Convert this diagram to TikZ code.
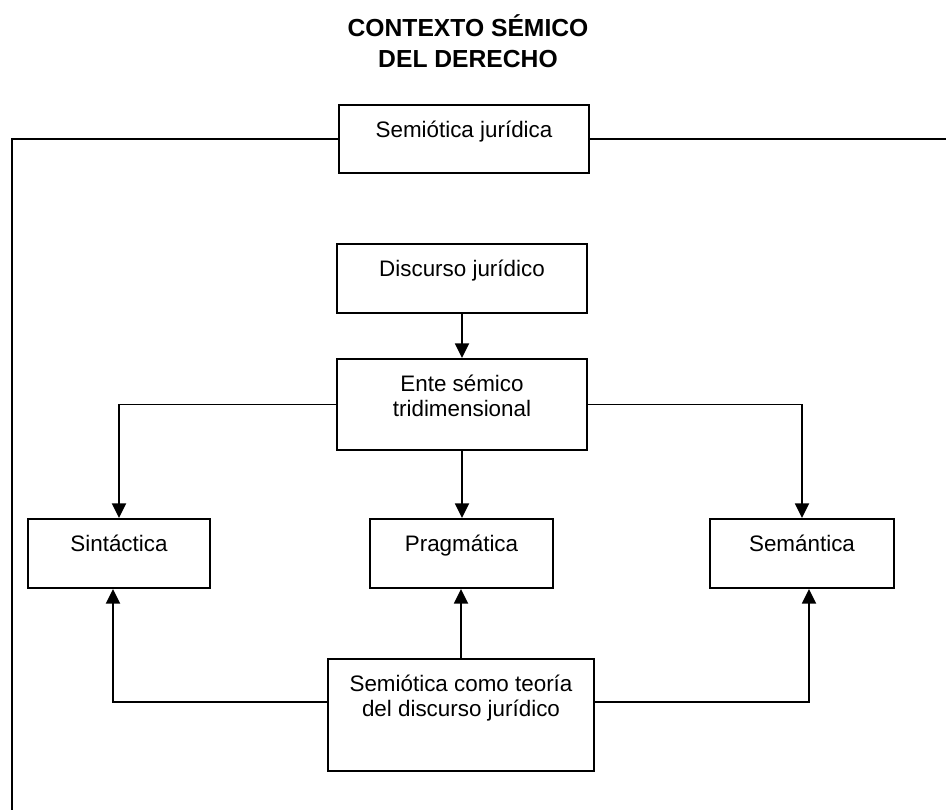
\documentclass[tikz,border=0pt]{standalone}
\usepackage{fontspec}
\setmainfont{Liberation Sans}
\usetikzlibrary{arrows.meta}

\tikzset{
  caja/.style={draw, line width=1.5pt, anchor=north west, inner xsep=0pt, inner ysep=0pt, align=center, font=\fontsize{16.8}{18.75}\selectfont, text height=24pt},
  caja2/.style={caja, text height=42.75pt},
  flecha/.style={-{Triangle[length=11pt, width=10.5pt]}, line width=1.4pt},
  linea/.style={line width=1.4pt},
}

\begin{document}
\begin{tikzpicture}[x=0.75pt, y=-0.75pt]
\useasboundingbox (0,0) rectangle (946,810);
\node[font=\bfseries\fontsize{18.5}{22.9}\selectfont, align=center] (titulo) at (468, 41) {CONTEXTO SÉMICO\\DEL DERECHO};
\node[caja, minimum width=187.5pt, text depth=27pt] (semjur) at (338, 104) {Semiótica jurídica};
\node[caja, minimum width=187.5pt, text depth=27.75pt] (discurso) at (336, 243) {Discurso jurídico};
\node[caja2, minimum width=187.5pt, text depth=25.5pt] (ente) at (336, 358) {Ente sémico\\tridimensional};
\node[caja, minimum width=136.5pt, text depth=27.75pt] (sintactica) at (27, 518) {Sintáctica};
\node[caja, minimum width=137.25pt, text depth=27.75pt] (pragmatica) at (369, 518) {Pragmática};
\node[caja, minimum width=138pt, text depth=27.75pt] (semantica) at (709, 518) {Semántica};
\node[caja2, minimum width=199.5pt, text depth=41.25pt] (teoria) at (327, 658) {Semiótica como teoría\\del discurso jurídico};
\coordinate (marcoI) at (12, 810);
\coordinate (marcoD) at (946, 140);
% marco
\draw[linea] (marcoI) |- (semjur.west);
\draw[linea] (semjur.east) -- (semjur.east -| marcoD);
% flechas
\draw[flecha] (discurso) -- (discurso |- ente.north);
\draw[flecha] (ente.west) -| (sintactica.north);
\draw[flecha] (ente.south) -- (ente.south |- pragmatica.north);
\draw[flecha] (ente.east) -| (semantica.north);
\draw[flecha] ([yshift=9.75pt]teoria.west) -| ([xshift=-4.5pt]sintactica.south);
\draw[flecha] (teoria.north) -- (teoria.north |- pragmatica.south);
\draw[flecha] ([yshift=9.75pt]teoria.east) -| ([xshift=5.25pt]semantica.south);
\end{tikzpicture}
\end{document}
